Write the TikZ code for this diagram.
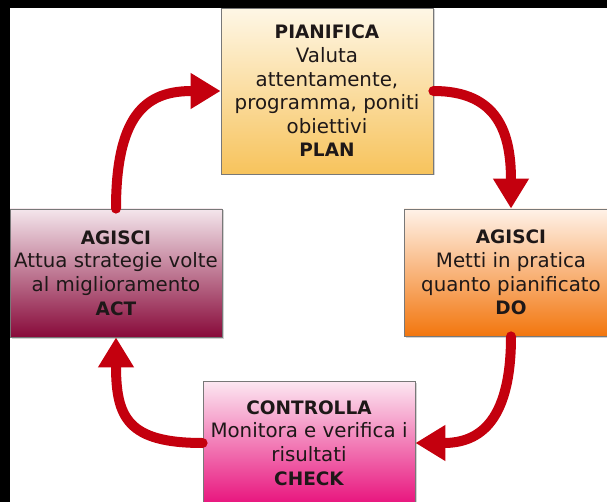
\documentclass[tikz,border=0pt]{standalone}
\usepackage{fontspec}
\setmainfont{DejaVu Sans}
\usetikzlibrary{arrows.meta,shadows}

\definecolor{arrowred}{RGB}{196,0,14}
\definecolor{boxline}{RGB}{120,120,120}
\definecolor{textdark}{RGB}{30,24,24}
\definecolor{planTop}{RGB}{254,247,230}
\definecolor{planBot}{RGB}{247,195,92}
\definecolor{doTop}{RGB}{255,242,232}
\definecolor{doBot}{RGB}{242,118,14}
\definecolor{checkTop}{RGB}{252,232,242}
\definecolor{checkBot}{RGB}{232,18,124}
\definecolor{actTop}{RGB}{244,230,236}
\definecolor{actBot}{RGB}{136,10,58}

% heading lines inside the phase boxes
\newcommand\phasehead[1]{{\fontsize{18.5}{23.6}\selectfont\bfseries #1}}

\begin{document}
\begin{tikzpicture}[x=1pt,y=-1pt,
  phase/.style={draw=boxline, line width=0.8pt, align=center, inner sep=0pt,
    font=\fontsize{19.8}{23.6}\selectfont, text=textdark,
    drop shadow={opacity=0.35, shadow xshift=1.5pt, shadow yshift=-1.5pt}},
  cycle arrow/.style={draw=arrowred, line width=10pt, line cap=round,
    -{Triangle[width=34pt,length=30pt,fill=arrowred]}}]

\fill[white] (0,0) rectangle (607,502);
\useasboundingbox (0,0) rectangle (607,502);

\begin{scope}
  \clip (0,0) rectangle (607,502);

  % the four phases of the cycle
  \node[phase, minimum width=212pt, minimum height=166pt,
        top color=planTop, bottom color=planBot] (plan) at (327,91)
    {\phasehead{PIANIFICA}\\Valuta\\attentamente,\\programma, poniti\\obiettivi\\\phasehead{PLAN}};

  \node[phase, minimum width=214pt, minimum height=127pt,
        top color=doTop, bottom color=doBot] (do) at (511,272.5)
    {\phasehead{AGISCI}\\Metti in pratica\\quanto pianificato\\\phasehead{DO}};

  \node[phase, minimum width=212pt, minimum height=124pt,
        top color=checkTop, bottom color=checkBot] (check) at (309,443)
    {\phasehead{CONTROLLA}\\Monitora e verifica i\\risultati\\\phasehead{CHECK}};

  \node[phase, minimum width=212pt, minimum height=128pt,
        top color=actTop, bottom color=actBot] (act) at (116,273)
    {\phasehead{AGISCI}\\Attua strategie volte\\al miglioramento\\\phasehead{ACT}};

  % curved arrows joining the phases
  \draw[cycle arrow] (act.north) .. controls +(0,-100) and +(-70,0) .. (plan.west);
  \draw[cycle arrow] (plan.east) .. controls +(65,0) and +(0,-75) .. (do.north);
  \draw[cycle arrow] (do.south) .. controls +(0,90) and +(60,0) .. (check.east);
  \draw[cycle arrow] (check.west) .. controls +(-75,0) and +(0,80) .. (act.south);
\end{scope}

% dark frame strips along the left and top edges
\fill[black] (0,0) rectangle (10,502);
\fill[black] (0,0) rectangle (607,8);
\end{tikzpicture}
\end{document}
